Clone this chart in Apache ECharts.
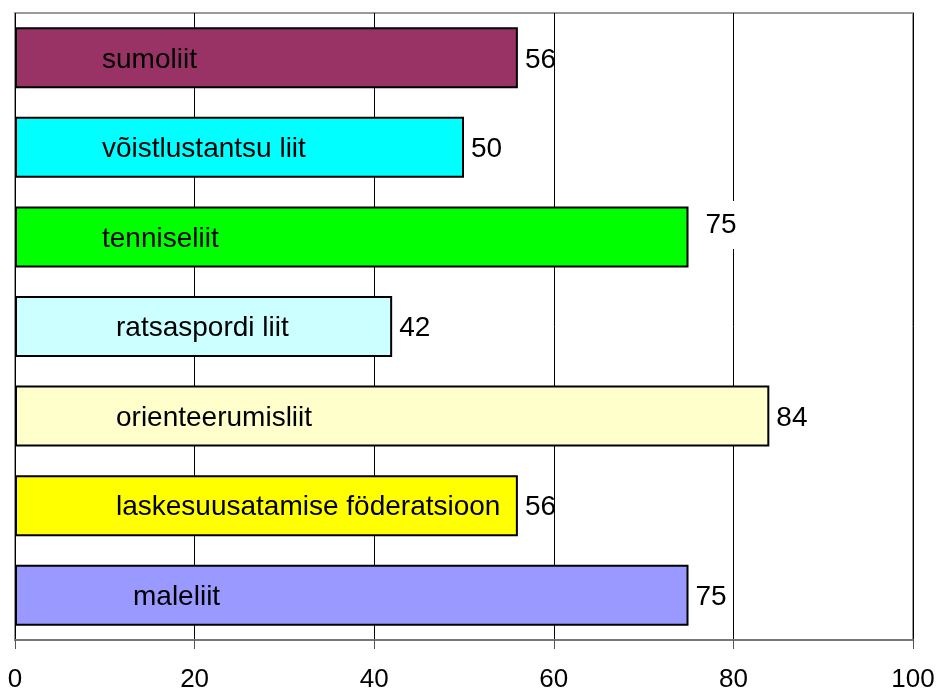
<!DOCTYPE html>
<html>
<head>
<meta charset="utf-8">
<script src="https://cdn.jsdelivr.net/npm/echarts@6/dist/echarts.min.js"></script>
<style>
  html, body { margin: 0; padding: 0; background: #fff; }
  #chart { width: 941px; height: 693px; }
</style>
</head>
<body>
<div id="chart"></div>
<script>
// data
var categories = ['sumoliit', 'võistlustantsu liit', 'tenniseliit', 'ratsaspordi liit',
                  'orienteerumisliit', 'laskesuusatamise föderatsioon', 'maleliit'];
var values = [56, 50, 75, 42, 84, 56, 75];
var xTicks = [0, 20, 40, 60, 80, 100];

// styling
var barColors = ['#993366', '#00ffff', '#00ff00', '#ccffff', '#ffffcc', '#ffff00', '#9999ff'];
var nameInset = [87, 87, 87, 101, 101, 101, 118];
var font = 'Liberation Sans, Arial, sans-serif';

var chart = echarts.init(document.getElementById('chart'));

var barData = values.map(function (v, i) {
  return {
    value: v,
    itemStyle: { color: barColors[i] },
    label: { distance: nameInset[i] }
  };
});

var valueData = values.map(function (v, i) {
  var d = { value: v };
  if (i === 2) {
    // moved label with white box, like the original
    d.label = { offset: [7, -12], backgroundColor: '#fff', padding: [10, 3] };
  }
  return d;
});

chart.setOption({
  animation: false,
  grid: {
    left: 15, right: 28, top: 13, bottom: 52,
    show: true, borderColor: '#999', borderWidth: 2
  },
  xAxis: {
    type: 'value',
    min: xTicks[0], max: xTicks[xTicks.length - 1], interval: 20,
    axisLine: { show: true, lineStyle: { color: '#777', width: 2 } },
    axisTick: { show: true, length: 9, lineStyle: { color: '#555' } },
    axisLabel: { color: '#000', fontSize: 26, fontFamily: font, margin: 27 },
    splitLine: { show: true, lineStyle: { color: '#000', width: 1 } }
  },
  yAxis: {
    type: 'category',
    data: categories,
    inverse: true,
    axisLine: { show: false },
    axisTick: { show: false },
    axisLabel: { show: false },
    splitLine: { show: false }
  },
  series: [
    {
      type: 'bar',
      data: barData,
      barWidth: 61,
      itemStyle: { borderColor: '#000', borderWidth: 2 },
      label: {
        show: true, position: 'insideLeft', formatter: '{b}', offset: [0, 2],
        color: '#000', fontSize: 28, fontFamily: font
      },
      silent: true
    },
    {
      type: 'bar',
      data: valueData,
      barWidth: 61,
      barGap: '-100%',
      itemStyle: { color: 'transparent', borderWidth: 0 },
      label: {
        show: true, position: 'right', distance: 7, offset: [0, 2],
        color: '#000', fontSize: 28, fontFamily: font
      },
      z: 3,
      silent: true
    }
  ]
});
</script>
</body>
</html>
